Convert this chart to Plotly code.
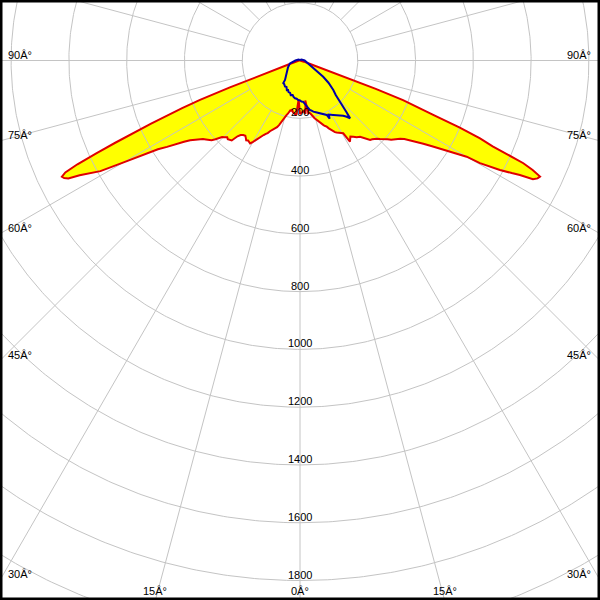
import numpy as np
import plotly.graph_objects as go

# ---------------- data ----------------
# Red plane (filled yellow): gamma angle in degrees (negative = left half), intensity in cd
red_angles = [-180, -120, -90, -80, -74, -72, -71, -70, -69.5, -69, -68.5, -68, -67, -66.5, -66,
              -65.5, -65, -64.5, -64, -63.5, -63, -62.5, -62, -61, -60, -59, -58, -57, -56, -55,
              -54, -53, -52, -51, -50, -49, -48, -47, -46.5, -45.5, -44.5, -43.5, -42.5, -41.5,
              -40.5, -39.5, -38.5, -37.3, -36, -35, -34, -33, -32, -31, -30, -29, -28, -27, -26,
              -25, -24, -23, -22, -21, -20, -19, -18, -17, -16, -15, -14, -13, -12, -11, -10, -9,
              -8, -6, -4, -2, 0,
              2, 4, 6, 7.5, 9, 10, 11, 12, 13, 14, 15, 16, 17, 18, 19, 20, 21, 22, 23,
              24, 25, 26, 27, 28, 29, 30, 30.7, 31.6, 32.5, 33.5, 35, 36.5, 38.2, 39.5, 40.5, 41.4,
              42.5, 43.5, 44.5, 45.5, 47, 48, 49, 50, 51, 52, 53, 54, 55.2, 56, 57, 58, 58.7, 59.5,
              60, 60.3, 61.3, 62, 62.5, 63, 63.6, 64.2, 64.8, 65.3, 65.6, 66, 66.6, 67.2, 67.8,
              68.4, 69, 69.5, 70, 70.5, 71, 73, 80, 90, 120, 180]
red_values = [0, 2, 4, 6, 10, 18, 40, 90, 160, 260, 372, 440, 560, 640, 700,
              775, 850, 900, 917, 912, 900, 860, 835, 790, 705, 630, 580, 549, 515, 490,
              470, 455, 442, 432, 425, 418, 412, 400, 392, 378, 372, 366, 370, 367,
              364, 340, 330, 324, 322, 327, 333, 330, 334, 335, 325, 313, 305, 295, 287,
              280, 275, 266, 260, 254, 248, 244, 235, 222, 212, 204, 196, 190, 184, 176, 176, 172,
              180, 185, 190, 135, 185,
              180, 175, 185, 140, 185, 184, 186, 190, 198, 205, 210, 216, 222,
              228, 233, 238, 243, 247, 255, 262, 272, 276, 280, 284, 288, 292, 293, 330, 322, 316,
              322, 330, 336, 348, 360, 367, 370, 374, 380, 388, 398, 408, 418, 425, 432, 440, 452,
              470, 492, 515, 545, 578, 608, 640, 666, 717, 789, 830, 858, 905, 918, 923, 890, 851,
              790, 730, 679, 600, 500, 430, 382, 280, 170, 80, 35, 14, 6, 4, 2, 0]

# Blue plane (outline only)
blue_angles = [-180, -120, -90, -74, -60, -53, -45, -40, -37.6, -36.6, -34, -30, -27, -24, -22,
               -20, -17, -15, -12, -10, -7.5, -5, -2.5, 0, 2, 4.2, 6, 8.3, 10, 11.4, 13, 14.6, 17,
               20.7, 23, 26.1, 27, 28, 31.4, 34, 36.3, 38, 39.7, 40.9, 42, 43, 44, 46, 48.5, 52,
               55, 60, 65, 72, 80, 90, 120, 180]
blue_values = [2, 6, 16, 36, 48, 55, 70, 80, 85, 97, 98, 104, 103, 112, 110,
               116, 117, 124, 122, 128, 132, 133, 137, 138, 142, 143, 150, 162, 168, 175, 178, 183,
               187, 195, 200, 210, 226, 212, 221, 228, 234, 243, 253, 265, 240, 219, 190, 172, 154,
               125, 98, 58, 45, 32, 24, 16, 6, 2]

ring_values = [200, 400, 600, 800, 1000, 1200, 1400, 1600, 1800]
ring_labels = ["200", "400", "600", "800", "1000", "1200", "1400", "1600", "1800"]
grid_rings = [200, 400, 600, 800, 1000, 1200, 1400, 1600, 1800, 2000, 2200]
spoke_step = 15
side_ticks = [90, 75, 60, 45, 30]
bottom_ticks = [15, 0]
deg_suffix = "Â°"

# ---------------- geometry ----------------
px_per_cd = 0.2889
cx_px, cy_px = 300.0, 60.5
x_half = cx_px / px_per_cd
y_top = cy_px / px_per_cd
y_bot = -(600 - cy_px) / px_per_cd


def to_xy(angles, values):
    a = np.radians(np.asarray(angles, dtype=float))
    v = np.asarray(values, dtype=float)
    return v * np.sin(a), -v * np.cos(a)


rx, ry = to_xy(red_angles, red_values)
bx, by = to_xy(blue_angles, blue_values)

# grid lines
gx, gy = [], []
t = np.radians(np.linspace(0, 360, 721))
for r in grid_rings:
    gx += list(r * np.sin(t)) + [None]
    gy += list(-r * np.cos(t)) + [None]
for a in range(0, 360, spoke_step):
    ar = np.radians(a)
    gx += [200 * np.sin(ar), 2600 * np.sin(ar), None]
    gy += [-200 * np.cos(ar), -2600 * np.cos(ar), None]

fig = go.Figure()
fig.add_trace(go.Scatter(x=rx, y=ry, mode="lines", fill="toself", fillcolor="#ffff00",
                         line=dict(color="#ffff00", width=0), hoverinfo="skip"))
fig.add_trace(go.Scatter(x=gx, y=gy, mode="lines", line=dict(color="#c4c4c4", width=1),
                         hoverinfo="skip"))
fig.add_trace(go.Scatter(x=rx, y=ry, mode="lines", line=dict(color="#e00000", width=2),
                         hoverinfo="skip"))
fig.add_trace(go.Scatter(x=bx, y=by, mode="lines", line=dict(color="#0000a8", width=2),
                         hoverinfo="skip"))

font = dict(family="Liberation Sans, Arial, sans-serif", size=11, color="#000000")
ann = []
for v, lab in zip(ring_values, ring_labels):
    ann.append(dict(x=0, y=-v, text=lab, showarrow=False, xanchor="center", yanchor="bottom",
                    font=font, borderpad=0, borderwidth=0))
for a in side_ticks:
    yy = -x_half / np.tan(np.radians(a)) if a != 90 else 0.0
    ann.append(dict(x=-x_half, y=yy, text=f"{a}{deg_suffix}", showarrow=False, xanchor="left",
                    yanchor="bottom", xshift=8, font=font, borderpad=0, borderwidth=0))
    ann.append(dict(x=x_half, y=yy, text=f"{a}{deg_suffix}", showarrow=False, xanchor="right",
                    yanchor="bottom", xshift=-9, font=font, borderpad=0, borderwidth=0))
for a in bottom_ticks:
    xx = -y_bot * np.tan(np.radians(a))
    for s in ([-1, 1] if a != 0 else [1]):
        ann.append(dict(x=s * xx if a != 0 else 0, y=y_bot, text=f"{a}{deg_suffix}",
                        showarrow=False, xanchor="center", yanchor="bottom", yshift=3,
                        font=font, borderpad=0, borderwidth=0))

fig.update_layout(
    width=600, height=600,
    margin=dict(l=0, r=0, t=0, b=0),
    paper_bgcolor="white", plot_bgcolor="white",
    showlegend=False, hovermode=False,
    xaxis=dict(range=[-x_half, x_half], visible=False, fixedrange=True),
    yaxis=dict(range=[y_bot, y_top], visible=False, fixedrange=True),
    annotations=ann,
    shapes=[dict(type="rect", xref="paper", yref="paper", x0=0, y0=0, x1=1, y1=1,
                 line=dict(color="black", width=5), layer="above")],
)

fig.write_html("out.html", config={"displayModeBar": False},
               post_script="document.body.style.margin='0';document.body.style.overflow='hidden';")
